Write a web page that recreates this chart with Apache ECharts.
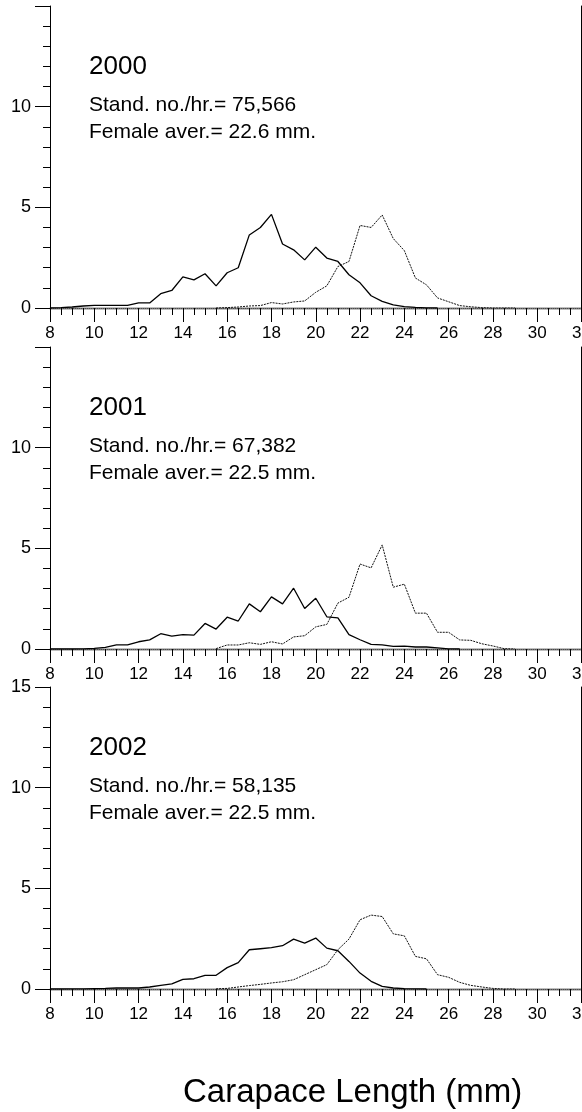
<!DOCTYPE html>
<html>
<head>
<meta charset="utf-8">
<script src="https://cdn.jsdelivr.net/npm/echarts@6/dist/echarts.min.js"></script>
<style>
  html, body { margin: 0; padding: 0; background: #fff; }
  #chart { width: 582px; height: 1112px; }
</style>
</head>
<body>
<div id="chart"></div>
<script>
// carapace length classes (mm), 0.5 mm bins
const lengths = [8, 8.5, 9, 9.5, 10, 10.5, 11, 11.5, 12, 12.5, 13, 13.5, 14, 14.5, 15, 15.5,
  16, 16.5, 17, 17.5, 18, 18.5, 19, 19.5, 20, 20.5, 21, 21.5, 22, 22.5, 23, 23.5,
  24, 24.5, 25, 25.5, 26, 26.5, 27, 27.5, 28, 28.5, 29]

// solid line
const males2000 = [0, 0.02, 0.05, 0.1, 0.13, 0.13, 0.13, 0.13, 0.25, 0.25, 0.71, 0.87, 1.55, 1.4, 1.7, 1.1,
  1.75, 2.0, 3.63, 4.0, 4.65, 3.18, 2.89, 2.39, 3.02, 2.48, 2.31, 1.65, 1.25, 0.61, 0.33, 0.15,
  0.07, 0.03, 0.01, 0, null, null, null, null, null, null, null]
const males2001 = [0, 0, 0, 0.01, 0.03, 0.08, 0.2, 0.2, 0.36, 0.45, 0.76, 0.64, 0.71, 0.69, 1.27, 0.99,
  1.58, 1.39, 2.24, 1.85, 2.59, 2.24, 3.02, 2.01, 2.52, 1.6, 1.55, 0.71, 0.46, 0.23, 0.2, 0.13,
  0.14, 0.1, 0.1, 0.06, 0.01, 0, null, null, null, null, null]
const males2002 = [0, 0, 0.01, 0.01, 0.02, 0.03, 0.05, 0.05, 0.05, 0.1, 0.18, 0.25, 0.48, 0.51, 0.68, 0.68,
  1.06, 1.31, 1.95, 2.0, 2.05, 2.15, 2.48, 2.28, 2.53, 2.03, 1.9, 1.37, 0.79, 0.38, 0.13, 0.05,
  0.02, 0.01, 0, null, null, null, null, null, null, null, null]

// dotted line (females)
const females2000 = [null, null, null, null, null, null, null, null, null, null, null, null, null, null, null, 0,
  0.02, 0.05, 0.1, 0.12, 0.27, 0.2, 0.3, 0.35, 0.78, 1.1, 2.06, 2.31, 4.1, 4.0, 4.62, 3.45,
  2.85, 1.49, 1.15, 0.5, 0.31, 0.12, 0.06, 0.02, 0, 0, 0]
const females2001 = [null, null, null, null, null, null, null, null, null, null, null, null, null, null, null, 0.02,
  0.2, 0.2, 0.31, 0.23, 0.36, 0.25, 0.6, 0.66, 1.1, 1.22, 2.28, 2.57, 4.22, 4.03, 5.17, 3.07,
  3.22, 1.78, 1.78, 0.83, 0.83, 0.45, 0.43, 0.26, 0.15, 0.02, 0]
const females2002 = [null, null, null, null, null, null, null, null, null, null, null, null, null, null, null, 0.01,
  0.03, 0.1, 0.17, 0.23, 0.3, 0.36, 0.46, 0.71, 0.96, 1.21, 1.95, 2.48, 3.44, 3.67, 3.6, 2.74,
  2.64, 1.62, 1.5, 0.71, 0.58, 0.33, 0.18, 0.1, 0.03, 0, 0]

const years = ['2000', '2001', '2002']
const standNo = ['75,566', '67,382', '58,135']
const femaleAver = ['22.6', '22.5', '22.5']
const males = [males2000, males2001, males2002]
const females = [females2000, females2001, females2002]
const yLabels = [[0, 5, 10], [0, 5, 10], [0, 5, 10, 15]]

const FONT = 'Liberation Sans, Arial, sans-serif'
const panelTop = [6, 347, 687]
const panelH = 302

const toPairs = (vals) => lengths.map((x, i) => [x, vals[i]])

const option = {
  animation: false,
  backgroundColor: '#fff',
  grid: [],
  xAxis: [],
  yAxis: [],
  series: [],
  graphic: []
}

years.forEach((year, i) => {
  // outerBoundsMode none: keep the plot edge at the canvas edge, "32" gets cut like the original
  option.grid.push({ left: 50, right: 0.5, top: panelTop[i], height: panelH, outerBoundsMode: 'none', containLabel: false })

  // bottom axis
  option.xAxis.push({
    type: 'value',
    gridIndex: i,
    min: 8,
    max: 32,
    interval: 2,
    axisLine: { onZero: false, lineStyle: { color: '#000', width: 1.3 } },
    axisTick: { show: true, length: 14, lineStyle: { color: '#000', width: 1 } },
    minorTick: { show: true, splitNumber: 4, length: 7, lineStyle: { color: '#000', width: 1 } },
    splitLine: { show: false },
    axisLabel: {
      color: '#000',
      fontSize: 17,
      fontFamily: FONT,
      margin: 17,
      alignMinLabel: 'center',
      alignMaxLabel: 'center'
    }
  })
  // top border
  option.xAxis.push({
    type: 'value',
    gridIndex: i,
    position: 'top',
    min: 8,
    max: 32,
    axisLine: { show: true, lineStyle: { color: '#777', width: 1, type: [1, 1] } },
    axisTick: { show: false },
    axisLabel: { show: false },
    splitLine: { show: false }
  })

  const labels = yLabels[i]
  option.yAxis.push({
    type: 'value',
    gridIndex: i,
    min: 0,
    max: 15,
    interval: 5,
    axisLine: { show: true, onZero: false, lineStyle: { color: '#000', width: 1 } },
    axisTick: { show: true, length: 15, lineStyle: { color: '#000' } },
    minorTick: { show: true, splitNumber: 5, length: 7, lineStyle: { color: '#000' } },
    splitLine: { show: false },
    axisLabel: {
      color: '#000',
      fontSize: 18,
      fontFamily: FONT,
      margin: 19,
      formatter: (v) => (labels.includes(v) ? String(v) : '')
    }
  })
  // right border
  option.yAxis.push({
    type: 'value',
    gridIndex: i,
    position: 'right',
    min: 0,
    max: 15,
    axisLine: { show: true, lineStyle: { color: '#000', width: 1 } },
    axisTick: { show: false },
    axisLabel: { show: false },
    splitLine: { show: false }
  })

  option.series.push({
    type: 'line',
    xAxisIndex: i * 2,
    yAxisIndex: i * 2,
    data: toPairs(males[i]),
    symbol: 'none',
    lineStyle: { color: '#000', width: 1.3 }
  })
  option.series.push({
    type: 'line',
    xAxisIndex: i * 2,
    yAxisIndex: i * 2,
    data: toPairs(females[i]),
    symbol: 'none',
    lineStyle: { color: '#111', width: 1, type: [2, 1] }
  })

  // panel annotations
  const top = panelTop[i]
  option.graphic.push(
    { type: 'text', left: 89, top: top + 48, style: { text: year, font: '26px ' + FONT, fill: '#000' } },
    { type: 'text', left: 89, top: top + 89, style: { text: 'Stand. no./hr.= ' + standNo[i], font: '21px ' + FONT, fill: '#000' } },
    { type: 'text', left: 89, top: top + 116, style: { text: 'Female aver.= ' + femaleAver[i] + ' mm.', font: '21px ' + FONT, fill: '#000' } }
  )
})

option.graphic.push({
  type: 'text',
  left: 183,
  top: 1076,
  style: { text: 'Carapace Length (mm)', font: '33px ' + FONT, fill: '#000' }
})

const chart = echarts.init(document.getElementById('chart'), null, { renderer: 'canvas' })
chart.setOption(option)
</script>
</body>
</html>
